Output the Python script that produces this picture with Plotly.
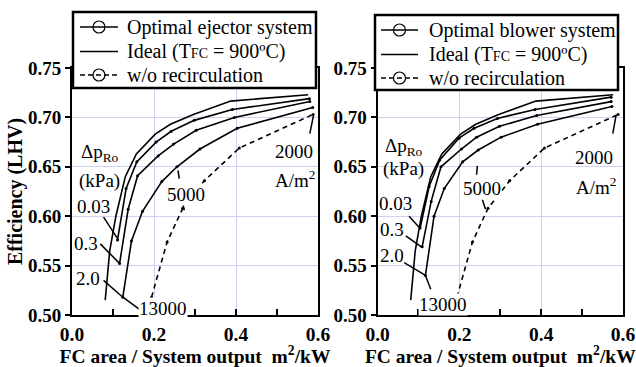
import plotly.graph_objects as go

# ---------------- data ----------------
# current density steps along each curve: 13000 ... 2000 A/m2 (ideal extends further)
ideal_x = [0.081, 0.092, 0.107, 0.130, 0.157, 0.203, 0.240, 0.296, 0.387, 0.576]
ideal_y = [0.515, 0.565, 0.600, 0.640, 0.663, 0.683, 0.693, 0.703, 0.7165, 0.723]

norecirc_x = [0.194, 0.232, 0.270, 0.323, 0.408, 0.588]
norecirc_y = [0.518, 0.574, 0.608, 0.636, 0.669, 0.703]

# ejector system, dp_Ro = 0.03, 0.3, 2.0 kPa
ej003_x = [0.111, 0.132, 0.158, 0.205, 0.242, 0.298, 0.391, 0.579]
ej003_y = [0.576, 0.628, 0.655, 0.675, 0.686, 0.697, 0.708, 0.719]
ej03_x = [0.116, 0.137, 0.160, 0.210, 0.248, 0.303, 0.396, 0.580]
ej03_y = [0.552, 0.607, 0.641, 0.661, 0.673, 0.687, 0.700, 0.716]
ej2_x = [0.124, 0.145, 0.172, 0.219, 0.256, 0.312, 0.403, 0.587]
ej2_y = [0.518, 0.575, 0.605, 0.635, 0.650, 0.668, 0.689, 0.710]

# blower system, dp_Ro = 0.03, 0.3, 2.0 kPa
bl003_x = [0.104, 0.126, 0.152, 0.199, 0.236, 0.293, 0.385, 0.571]
bl003_y = [0.588, 0.630, 0.657, 0.679, 0.689, 0.699, 0.708, 0.7205]
bl03_x = [0.109, 0.131, 0.155, 0.205, 0.242, 0.298, 0.389, 0.571]
bl03_y = [0.569, 0.615, 0.650, 0.668, 0.680, 0.691, 0.702, 0.716]
bl2_x = [0.117, 0.138, 0.163, 0.208, 0.246, 0.302, 0.391, 0.573]
bl2_y = [0.540, 0.600, 0.628, 0.655, 0.667, 0.680, 0.693, 0.711]

x_ticks = [0.0, 0.2, 0.4, 0.6]
x_tick_labels = ["0.0", "0.2", "0.4", "0.6"]
y_ticks = [0.50, 0.55, 0.60, 0.65, 0.70, 0.75]
y_tick_labels = ["0.50", "0.55", "0.60", "0.65", "0.70", "0.75"]

legend_left = ["Optimal ejector system", "Ideal (T<span style='font-size:14px'>FC</span> = 900ºC)", "w/o recirculation"]
legend_right = ["Optimal blower system", "Ideal (T<span style='font-size:14px'>FC</span> = 900ºC)", "w/o recirculation"]

SERIF = "Liberation Serif, Times New Roman, DejaVu Serif, serif"
BLACK = "black"
GRID = "#cfcff2"

# layout geometry (pixels)
W, H = 636, 367
ML, MR, MT, MB = 72, 13, 68, 52
PW, PH = W - ML - MR, H - MT - MB

def px(x):
    return (x - ML) / PW

def py(y):
    return (H - MB - y) / PH

fig = go.Figure()

def curve(x, y, xa, ya, name, dash="solid", markers=True):
    fig.add_trace(go.Scatter(
        x=x, y=y, xaxis=xa, yaxis=ya, name=name, showlegend=False, hoverinfo="skip",
        mode="lines+markers" if markers else "lines",
        line=dict(color=BLACK, width=1.6, dash=dash),
        marker=dict(color=BLACK, size=3, symbol="circle"),
    ))

for xa, ya, names, sets in [
        ("x", "y", legend_left, [(ej003_x, ej003_y), (ej03_x, ej03_y), (ej2_x, ej2_y)]),
        ("x2", "y2", legend_right, [(bl003_x, bl003_y), (bl03_x, bl03_y), (bl2_x, bl2_y)])]:
    curve(ideal_x, ideal_y, xa, ya, names[1], markers=False)
    for cx, cy in sets:
        curve(cx, cy, xa, ya, names[0])
    curve(norecirc_x, norecirc_y, xa, ya, names[2], dash="5px,4px")

xaxis_common = dict(range=[0, 0.6], tickvals=x_ticks, ticktext=x_tick_labels, ticks="inside", ticklen=6,
                    tickwidth=1.5, tickcolor=BLACK, showline=True, linecolor=BLACK, linewidth=2, mirror=True,
                    showgrid=True, gridcolor=GRID, gridwidth=1, zeroline=False, ticklabelstandoff=1,
                    minor=dict(dtick=0.1, ticks="inside", ticklen=6, tickwidth=1.5, tickcolor=BLACK, showgrid=False),
                    tickfont=dict(family=SERIF, size=19.5, color=BLACK, weight="bold"),
                    title=dict(text="FC area / System output  m<sup>2</sup>/kW", standoff=5,
                               font=dict(family=SERIF, size=19.5, color=BLACK, weight="bold")))
yaxis_common = dict(range=[0.5, 0.75], tickvals=y_ticks, ticktext=y_tick_labels, ticks="outside", ticklen=5,
                    tickwidth=1.5, tickcolor=BLACK, showline=True, linecolor=BLACK, linewidth=2, mirror=True,
                    showgrid=True, gridcolor=GRID, gridwidth=1, zeroline=False,
                    tickfont=dict(family=SERIF, size=19, color=BLACK, weight="bold"))

fig.update_layout(
    width=W, height=H,
    margin=dict(l=ML, r=MR, t=MT, b=MB, autoexpand=False),
    paper_bgcolor="white", plot_bgcolor="white",
    font=dict(family=SERIF, size=19, color=BLACK),
    showlegend=False,
    xaxis=dict(domain=[0, 0.4465], anchor="y", **xaxis_common),
    yaxis=dict(domain=[0, 1], anchor="x",
               title=dict(text="Efficiency (LHV)", standoff=0,
                          font=dict(family=SERIF, size=20, color=BLACK, weight="bold")),
               **yaxis_common),
    xaxis2=dict(domain=[0.5546, 1], anchor="y2", **xaxis_common),
    yaxis2=dict(domain=[0, 1], anchor="x2", **yaxis_common),
)

# ---------------- annotations ----------------
def label(text, x, y, xr, yr, bg=None):
    fig.add_annotation(text=text, x=x, y=y, xref=xr, yref=yr, showarrow=False,
                       font=dict(family=SERIF, size=19, color=BLACK),
                       bgcolor=bg if bg else "rgba(0,0,0,0)", borderpad=0)

def pointer(x0, y0, x1, y1, xr, yr):
    fig.add_shape(type="line", x0=x0, y0=y0, x1=x1, y1=y1, xref=xr, yref=yr, layer="above",
                  line=dict(color=BLACK, width=1.5))

# left panel
label("Δp<sub>Ro</sub>", 0.068, 0.664, "x", "y")
label("(kPa)", 0.067, 0.636, "x", "y")
label("0.03", 0.052, 0.6096, "x", "y")
label("0.3", 0.034, 0.572, "x", "y")
label("2.0", 0.038, 0.537, "x", "y")
label("13000", 0.223, 0.507, "x", "y", bg="white")
label("5000", 0.278, 0.6217, "x", "y", bg="white")
label("2000", 0.541, 0.665, "x", "y")
label("A/m<sup>2</sup>", 0.544, 0.638, "x", "y")
pointer(0.077, 0.599, 0.110, 0.578, "x", "y")
pointer(0.069, 0.572, 0.114, 0.553, "x", "y")
pointer(0.077, 0.535, 0.124, 0.518, "x", "y")
pointer(0.124, 0.518, 0.167, 0.505, "x", "y")
pointer(0.2585, 0.6465, 0.2617, 0.638, "x", "y")
pointer(0.270, 0.613, 0.274, 0.606, "x", "y")
pointer(0.589, 0.702, 0.580, 0.6835, "x", "y")

# right panel
label("Δp<sub>Ro</sub>", 0.064, 0.670, "x2", "y2")
label("(kPa)", 0.064, 0.6475, "x2", "y2")
label("0.03", 0.045, 0.6125, "x2", "y2")
label("0.3", 0.036, 0.587, "x2", "y2")
label("2.0", 0.036, 0.560, "x2", "y2")
label("13000", 0.159, 0.5106, "x2", "y2", bg="white")
label("5000", 0.256, 0.628, "x2", "y2", bg="white")
label("2000", 0.528, 0.6596, "x2", "y2")
label("A/m<sup>2</sup>", 0.533, 0.631, "x2", "y2")
pointer(0.077, 0.600, 0.103, 0.588, "x2", "y2")
pointer(0.069, 0.580, 0.107, 0.569, "x2", "y2")
pointer(0.065, 0.553, 0.117, 0.540, "x2", "y2")
pointer(0.117, 0.540, 0.130, 0.526, "x2", "y2")
pointer(0.244, 0.651, 0.242, 0.642, "x2", "y2")
pointer(0.256, 0.617, 0.264, 0.607, "x2", "y2")
pointer(0.583, 0.702, 0.575, 0.6835, "x2", "y2")

# ---------------- legend boxes (one per panel) ----------------
def legend_box(names, bx0, bx1, by0, by1, lx0, lx1, tx, rows):
    fig.add_shape(type="rect", xref="paper", yref="paper", layer="above",
                  x0=px(bx0), x1=px(bx1), y0=py(by1), y1=py(by0),
                  fillcolor="white", line=dict(color=BLACK, width=2.5))
    styles = [("solid", True), ("solid", False), ("5px,3px", True)]
    cx = (lx0 + lx1) / 2
    for name, (dash, circ), ry in zip(names, styles, rows):
        fig.add_shape(type="line", xref="paper", yref="paper", layer="above",
                      x0=px(lx0), x1=px(lx1), y0=py(ry), y1=py(ry),
                      line=dict(color=BLACK, width=1.4, dash=dash))
        if circ:
            fig.add_shape(type="circle", xref="paper", yref="paper", layer="above",
                          xsizemode="pixel", ysizemode="pixel",
                          xanchor=px(cx), yanchor=py(ry), x0=-6, x1=6, y0=-6, y1=6,
                          line=dict(color=BLACK, width=1.2))
        fig.add_annotation(text=name, xref="paper", yref="paper", x=px(tx), y=py(ry),
                           xanchor="left", yanchor="middle", showarrow=False,
                           font=dict(family=SERIF, size=20, color=BLACK))

legend_box(legend_left, 73, 316, 12, 88, 80, 118, 125, [27, 51.5, 75])
legend_box(legend_right, 375, 618, 15, 90, 381, 418, 427, [30, 54.5, 78])

fig.write_html("out.html", config={"displayModeBar": False},
               post_script="document.body.style.margin='0';")
